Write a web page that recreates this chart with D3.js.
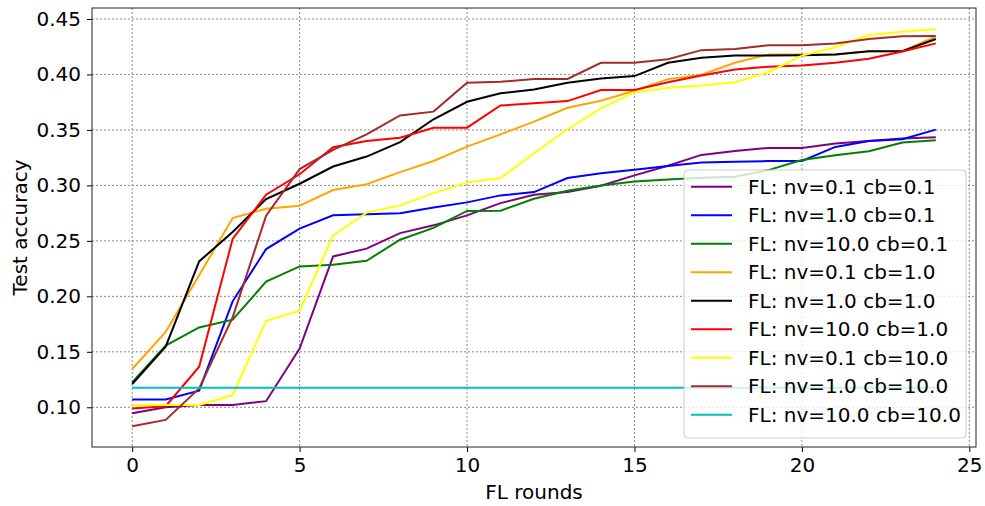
<!DOCTYPE html>
<html>
<head>
<meta charset="utf-8">
<script src="https://cdn.jsdelivr.net/npm/d3@7"></script>
<style>
  body { margin: 0; background: white; }
  text { font-family: "DejaVu Sans", sans-serif; }
</style>
</head>
<body>
<svg id="chart" width="985" height="506"></svg>
<script>
// data
const rounds = [0, 1, 2, 3, 4, 5, 6, 7, 8, 9, 10, 11, 12, 13, 14, 15, 16, 17, 18, 19, 20, 21, 22, 23, 24];

const nv01cb01 = [0.0946, 0.100, 0.102, 0.102, 0.1055, 0.153, 0.236, 0.243, 0.257, 0.264, 0.273, 0.284, 0.2916, 0.294, 0.2997, 0.309, 0.3177, 0.3275, 0.331, 0.3338, 0.3338, 0.3377, 0.340, 0.3422, 0.3434];
const nv1cb01 = [0.107, 0.107, 0.115, 0.1955, 0.2426, 0.261, 0.273, 0.274, 0.275, 0.280, 0.2847, 0.291, 0.294, 0.3066, 0.311, 0.314, 0.3174, 0.3207, 0.3213, 0.3219, 0.322, 0.3347, 0.340, 0.3416, 0.3503];
const nv10cb01 = [0.1225, 0.1556, 0.172, 0.179, 0.2132, 0.227, 0.2284, 0.232, 0.251, 0.2617, 0.277, 0.2772, 0.288, 0.2952, 0.300, 0.3035, 0.3054, 0.3069, 0.3078, 0.3138, 0.3228, 0.3272, 0.3308, 0.3386, 0.3407];
const nv01cb1 = [0.1345, 0.168, 0.219, 0.2706, 0.279, 0.2817, 0.2958, 0.301, 0.312, 0.322, 0.335, 0.346, 0.3575, 0.370, 0.3763, 0.3853, 0.3958, 0.3997, 0.4105, 0.418, 0.418, 0.418, 0.421, 0.421, 0.4344];
const nv1cb1 = [0.121, 0.1547, 0.2315, 0.258, 0.2877, 0.3015, 0.317, 0.326, 0.339, 0.3596, 0.3754, 0.383, 0.3865, 0.3925, 0.3964, 0.3985, 0.4105, 0.415, 0.417, 0.417, 0.4174, 0.418, 0.421, 0.421, 0.432];
const nv10cb1 = [0.099, 0.101, 0.1366, 0.2517, 0.2916, 0.310, 0.3344, 0.340, 0.343, 0.352, 0.352, 0.372, 0.374, 0.376, 0.386, 0.386, 0.393, 0.399, 0.4045, 0.407, 0.408, 0.4105, 0.4141, 0.4207, 0.428];
const nv01cb10 = [0.1018, 0.102, 0.102, 0.111, 0.178, 0.187, 0.255, 0.2755, 0.282, 0.293, 0.3027, 0.3066, 0.329, 0.3506, 0.3695, 0.384, 0.3877, 0.390, 0.393, 0.402, 0.417, 0.4245, 0.4356, 0.4386, 0.4407];
const nv1cb10 = [0.083, 0.0886, 0.117, 0.181, 0.2727, 0.3147, 0.332, 0.346, 0.363, 0.3665, 0.3925, 0.3934, 0.396, 0.396, 0.4105, 0.4105, 0.4138, 0.4219, 0.423, 0.4263, 0.4263, 0.428, 0.432, 0.4344, 0.4347];
const nv10cb10 = [0.1175, 0.1175, 0.1175, 0.1175, 0.1175, 0.1175, 0.1175, 0.1175, 0.1175, 0.1175, 0.1175, 0.1175, 0.1175, 0.1175, 0.1175, 0.1175, 0.1175, 0.1175, 0.1175, 0.1175, 0.1175, 0.1175, 0.1175, 0.1175, 0.1175];

const labels = ["FL: nv=0.1 cb=0.1", "FL: nv=1.0 cb=0.1", "FL: nv=10.0 cb=0.1",
                "FL: nv=0.1 cb=1.0", "FL: nv=1.0 cb=1.0", "FL: nv=10.0 cb=1.0",
                "FL: nv=0.1 cb=10.0", "FL: nv=1.0 cb=10.0", "FL: nv=10.0 cb=10.0"];
const colors = ["#800080", "#0000ff", "#008000", "#ffa500", "#000000", "#ff0000", "#ffff00", "#a52a2a", "#00bfbf"];
const xTicks = [0, 5, 10, 15, 20, 25];
const yTicks = [0.10, 0.15, 0.20, 0.25, 0.30, 0.35, 0.40, 0.45];

const seriesValues = [nv01cb01, nv1cb01, nv10cb01, nv01cb1, nv1cb1, nv10cb1, nv01cb10, nv1cb10, nv10cb10];
const series = seriesValues.map((vals, i) => ({
    label: labels[i],
    color: colors[i],
    points: vals.map((v, j) => ({ x: rounds[j], y: v }))
}));

const svg = d3.select("#chart");
const width = 985;
const height = 506;
const margin = { top: 8, right: 9, bottom: 59, left: 92 };
const chartWidth = width - margin.left - margin.right;
const chartHeight = height - margin.top - margin.bottom;

const chart = svg.append("g")
    .attr("transform", `translate(${margin.left}, ${margin.top})`);

const xScale = d3.scaleLinear()
    .domain([-1.2, 25.2])
    .range([0, chartWidth]);

const yScale = d3.scaleLinear()
    .domain([0.0642, 0.4599])
    .range([chartHeight, 0]);

// grid
chart.append("g")
    .selectAll("line")
    .data(xTicks)
    .enter()
    .append("line")
    .attr("x1", d => xScale(d))
    .attr("x2", d => xScale(d))
    .attr("y1", 0)
    .attr("y2", chartHeight)
    .attr("stroke", "#8a8a8a")
    .attr("stroke-width", 1)
    .attr("stroke-dasharray", "2,2");

chart.append("g")
    .selectAll("line")
    .data(yTicks)
    .enter()
    .append("line")
    .attr("x1", 0)
    .attr("x2", chartWidth)
    .attr("y1", d => yScale(d))
    .attr("y2", d => yScale(d))
    .attr("stroke", "#8a8a8a")
    .attr("stroke-width", 1)
    .attr("stroke-dasharray", "2,2");

// lines
const line = d3.line()
    .x(d => xScale(d.x))
    .y(d => yScale(d.y));

chart.selectAll(".series")
    .data(series)
    .enter()
    .append("path")
    .attr("class", "series")
    .attr("d", d => line(d.points))
    .attr("fill", "none")
    .attr("stroke", d => d.color)
    .attr("stroke-width", 2);

// axes
const xAxis = chart.append("g")
    .attr("transform", `translate(0, ${chartHeight})`)
    .call(d3.axisBottom(xScale).tickValues(xTicks).tickSize(5).tickPadding(6).tickFormat(d3.format("d")));

const yAxis = chart.append("g")
    .call(d3.axisLeft(yScale).tickValues(yTicks).tickSize(5).tickPadding(6).tickFormat(d3.format(".2f")));

[xAxis, yAxis].forEach(ax => {
    ax.select(".domain").remove();
    ax.selectAll("text")
        .style("font-size", "20px")
        .attr("fill", "#000");
    ax.selectAll("line").attr("stroke", "#000");
});

chart.append("rect")
    .attr("width", chartWidth)
    .attr("height", chartHeight)
    .attr("fill", "none")
    .attr("stroke", "#222")
    .attr("stroke-width", 1);

// axis labels
svg.append("text")
    .attr("x", margin.left + chartWidth / 2)
    .attr("y", 499)
    .attr("text-anchor", "middle")
    .style("font-size", "20px")
    .text("FL rounds");

svg.append("text")
    .attr("transform", `translate(27, ${margin.top + chartHeight / 2}) rotate(-90)`)
    .attr("text-anchor", "middle")
    .style("font-size", "20px")
    .text("Test accuracy");

// legend
const legend = svg.append("g")
    .attr("transform", "translate(684, 170)");

legend.append("rect")
    .attr("width", 282)
    .attr("height", 268)
    .attr("rx", 4)
    .attr("fill", "white")
    .attr("fill-opacity", 0.8)
    .attr("stroke", "#cccccc");

const rows = legend.selectAll(".row")
    .data(series)
    .enter()
    .append("g")
    .attr("class", "row")
    .attr("transform", (d, i) => `translate(0, ${16.7 + i * 28.5})`);

rows.append("line")
    .attr("x1", 7)
    .attr("x2", 48)
    .attr("stroke", d => d.color)
    .attr("stroke-width", 2);

rows.append("text")
    .attr("x", 64)
    .attr("dy", "0.35em")
    .style("font-size", "20px")
    .text(d => d.label);
</script>
</body>
</html>
